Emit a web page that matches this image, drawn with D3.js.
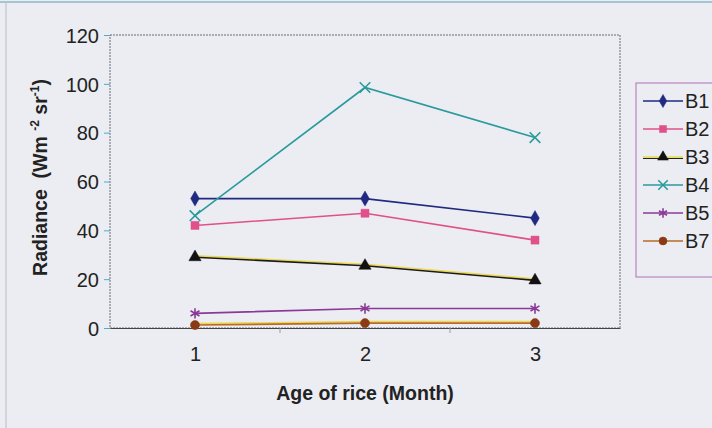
<!DOCTYPE html>
<html>
<head>
<meta charset="utf-8">
<script src="https://cdn.jsdelivr.net/npm/d3@7"></script>
<style>
  body { margin: 0; background: #ecedf2; }
  text { font-family: "Liberation Sans", Arial, sans-serif; fill: #222; }
</style>
</head>
<body>
<svg id="chart"></svg>
<script>
// Data ////////////////////////////////////////////////////////////////
var months = ["1", "2", "3"];
var bands = ["B1", "B2", "B3", "B4", "B5", "B7"];
var b1 = [53, 53, 45];
var b2 = [42, 47, 36];
var b3 = [29, 25.5, 19.5];
var b4 = [46, 98.5, 78];
var b5 = [6, 8, 8];
var b7 = [1.2, 2, 2];
var yTicks = [0, 20, 40, 60, 80, 100, 120];

var seriesValues = [b1, b2, b3, b4, b5, b7];
var lineColor = ["#1f2a80", "#e0508a", "#1a1a1a", "#2a9a9c", "#8a3a96", "#b86a28"];
var legendLine = ["#1f2a80", "#e0508a", "#e8d848", "#2a9a9c", "#8a3a96", "#b86a28"];
var markColor = ["#1f2a80", "#e0508a", "#111111", "#2a9a9c", "#8a3a96", "#8a3a14"];
var symbols = [d3.symbolDiamond, d3.symbolSquare, d3.symbolTriangle, d3.symbolTimes, d3.symbolAsterisk, d3.symbolCircle];
var strokeSym = [false, false, false, true, true, false];

var series = bands.map(function(b, i) {
    return { name: b, values: seriesValues[i].map(function(v, j) { return { month: months[j], value: v } }) };
});

var W = 712, H = 428;
var margin = {top: 35, right: 92, bottom: 100, left: 110};
var width = W - margin.left - margin.right;
var height = H - margin.top - margin.bottom;

var svg = d3.select("#chart").attr("width", W).attr("height", H);

// page frame
svg.append("line").attr("x1", 0).attr("x2", W).attr("y1", 2).attr("y2", 2)
    .attr("stroke", "#8ab8c8").attr("stroke-width", 1.5);
svg.append("line").attr("x1", 6).attr("x2", 6).attr("y1", 2).attr("y2", H)
    .attr("stroke", "#b8bcc4").attr("stroke-width", 1);

var g = svg.append("g").attr("transform", "translate(" + margin.left + "," + margin.top + ")");

var x = d3.scalePoint().domain(months).range([0, width]).padding(0.5);
var xBand = d3.scaleBand().domain(months).range([0, width]);
var y = d3.scaleLinear().domain([0, 120]).range([height, 0]);

// plot frame
g.append("rect").attr("width", width).attr("height", height)
    .attr("fill", "none").attr("stroke", "#6a6a78").attr("stroke-width", 1)
    .attr("stroke-dasharray", "2,1");

// y axis
var yAxis = g.append("g").call(d3.axisLeft(y).tickValues(yTicks).tickSize(6).tickPadding(5));
yAxis.select(".domain").remove();
yAxis.selectAll(".tick line").attr("stroke", "#4ab0c0");
yAxis.selectAll(".tick text")
    .style("font-size", "20px").attr("fill", "#222").attr("dy", "0.36em");

// x axis
var xAxis = g.append("g").attr("transform", "translate(0," + height + ")")
    .call(d3.axisBottom(x).tickSize(0).tickPadding(19));
xAxis.select(".domain").attr("stroke", "#444");
xAxis.selectAll(".tick text").style("font-size", "20px").attr("fill", "#222");
xAxis.selectAll(".xb")
    .data(months.slice(1))
    .enter()
    .append("line")
        .attr("x1", function(d) { return xBand(d) })
        .attr("x2", function(d) { return xBand(d) })
        .attr("y1", 0).attr("y2", 5)
        .attr("stroke", "#999");

// lines
var line = d3.line()
    .x(function(d) { return x(d.month) })
    .y(function(d) { return y(d.value) });

var sg = g.selectAll(".series")
    .data(series)
    .enter()
    .append("g")
        .attr("class", "series");

// yellow shadow on B3 and B7 lines like the print
sg.filter(function(d, i) { return i === 2 || i === 5 })
    .append("path")
        .attr("d", function(d) { return line(d.values) })
        .attr("fill", "none")
        .attr("stroke", "#ecd84a")
        .attr("stroke-width", 1.5)
        .attr("transform", "translate(0,-1.5)");

sg.append("path")
    .attr("d", function(d) { return line(d.values) })
    .attr("fill", "none")
    .attr("stroke", function(d, i) { return lineColor[i] })
    .attr("stroke-width", 1.6);

sg.each(function(s, i) {
    var sym = d3.symbol().type(symbols[i]).size(i === 3 || i === 4 ? 75 : 65);
    d3.select(this).selectAll("path.mark")
        .data(s.values)
        .enter()
        .append("path")
            .attr("class", "mark")
            .attr("d", sym)
            .attr("transform", function(d) { return "translate(" + x(d.month) + "," + y(d.value) + ")" })
            .attr("fill", strokeSym[i] ? "none" : markColor[i])
            .attr("stroke", markColor[i])
            .attr("stroke-width", strokeSym[i] ? 1.6 : 0.5);
});

// axis titles
g.append("text")
    .attr("transform", "translate(-63," + (height / 2 - 4) + ") rotate(-90)")
    .attr("text-anchor", "middle")
    .style("font-size", "19.5px").style("font-weight", "bold")
    .html('Radiance&#160; (Wm <tspan dy="-8" font-size="12">-2</tspan><tspan dy="8"> sr</tspan><tspan dy="-8" font-size="12">-1</tspan><tspan dy="8">)</tspan>');

g.append("text")
    .attr("x", width / 2)
    .attr("y", height + 72)
    .attr("text-anchor", "middle")
    .style("font-size", "19.5px").style("font-weight", "bold")
    .text("Age of rice (Month)");

// legend
var legend = svg.append("g").attr("transform", "translate(636,83)");
legend.append("rect").attr("width", 90).attr("height", 194)
    .attr("fill", "#ecedf2").attr("stroke", "#b070b8").attr("stroke-width", 1);

var items = legend.selectAll(".item")
    .data(bands)
    .enter()
    .append("g")
        .attr("class", "item")
        .attr("transform", function(d, i) { return "translate(0," + (18 + i * 28) + ")" });

items.append("line")
    .attr("x1", 7).attr("x2", 47).attr("y1", 0).attr("y2", 0)
    .attr("stroke", function(d, i) { return legendLine[i] })
    .attr("stroke-width", 1.6);
items.filter(function(d, i) { return i === 2 }).append("line")
    .attr("x1", 7).attr("x2", 47).attr("y1", 1.5).attr("y2", 1.5)
    .attr("stroke", "#222").attr("stroke-width", 1);

items.append("path")
    .attr("d", function(d, i) { return d3.symbol().type(symbols[i]).size(i === 3 || i === 4 ? 60 : 50)() })
    .attr("transform", "translate(27,0)")
    .attr("fill", function(d, i) { return strokeSym[i] ? "none" : markColor[i] })
    .attr("stroke", function(d, i) { return markColor[i] })
    .attr("stroke-width", function(d, i) { return strokeSym[i] ? 1.6 : 0.5 });

items.append("text")
    .attr("x", 49)
    .attr("y", 7)
    .style("font-size", "20px")
    .text(function(d) { return d });
</script>
</body>
</html>
